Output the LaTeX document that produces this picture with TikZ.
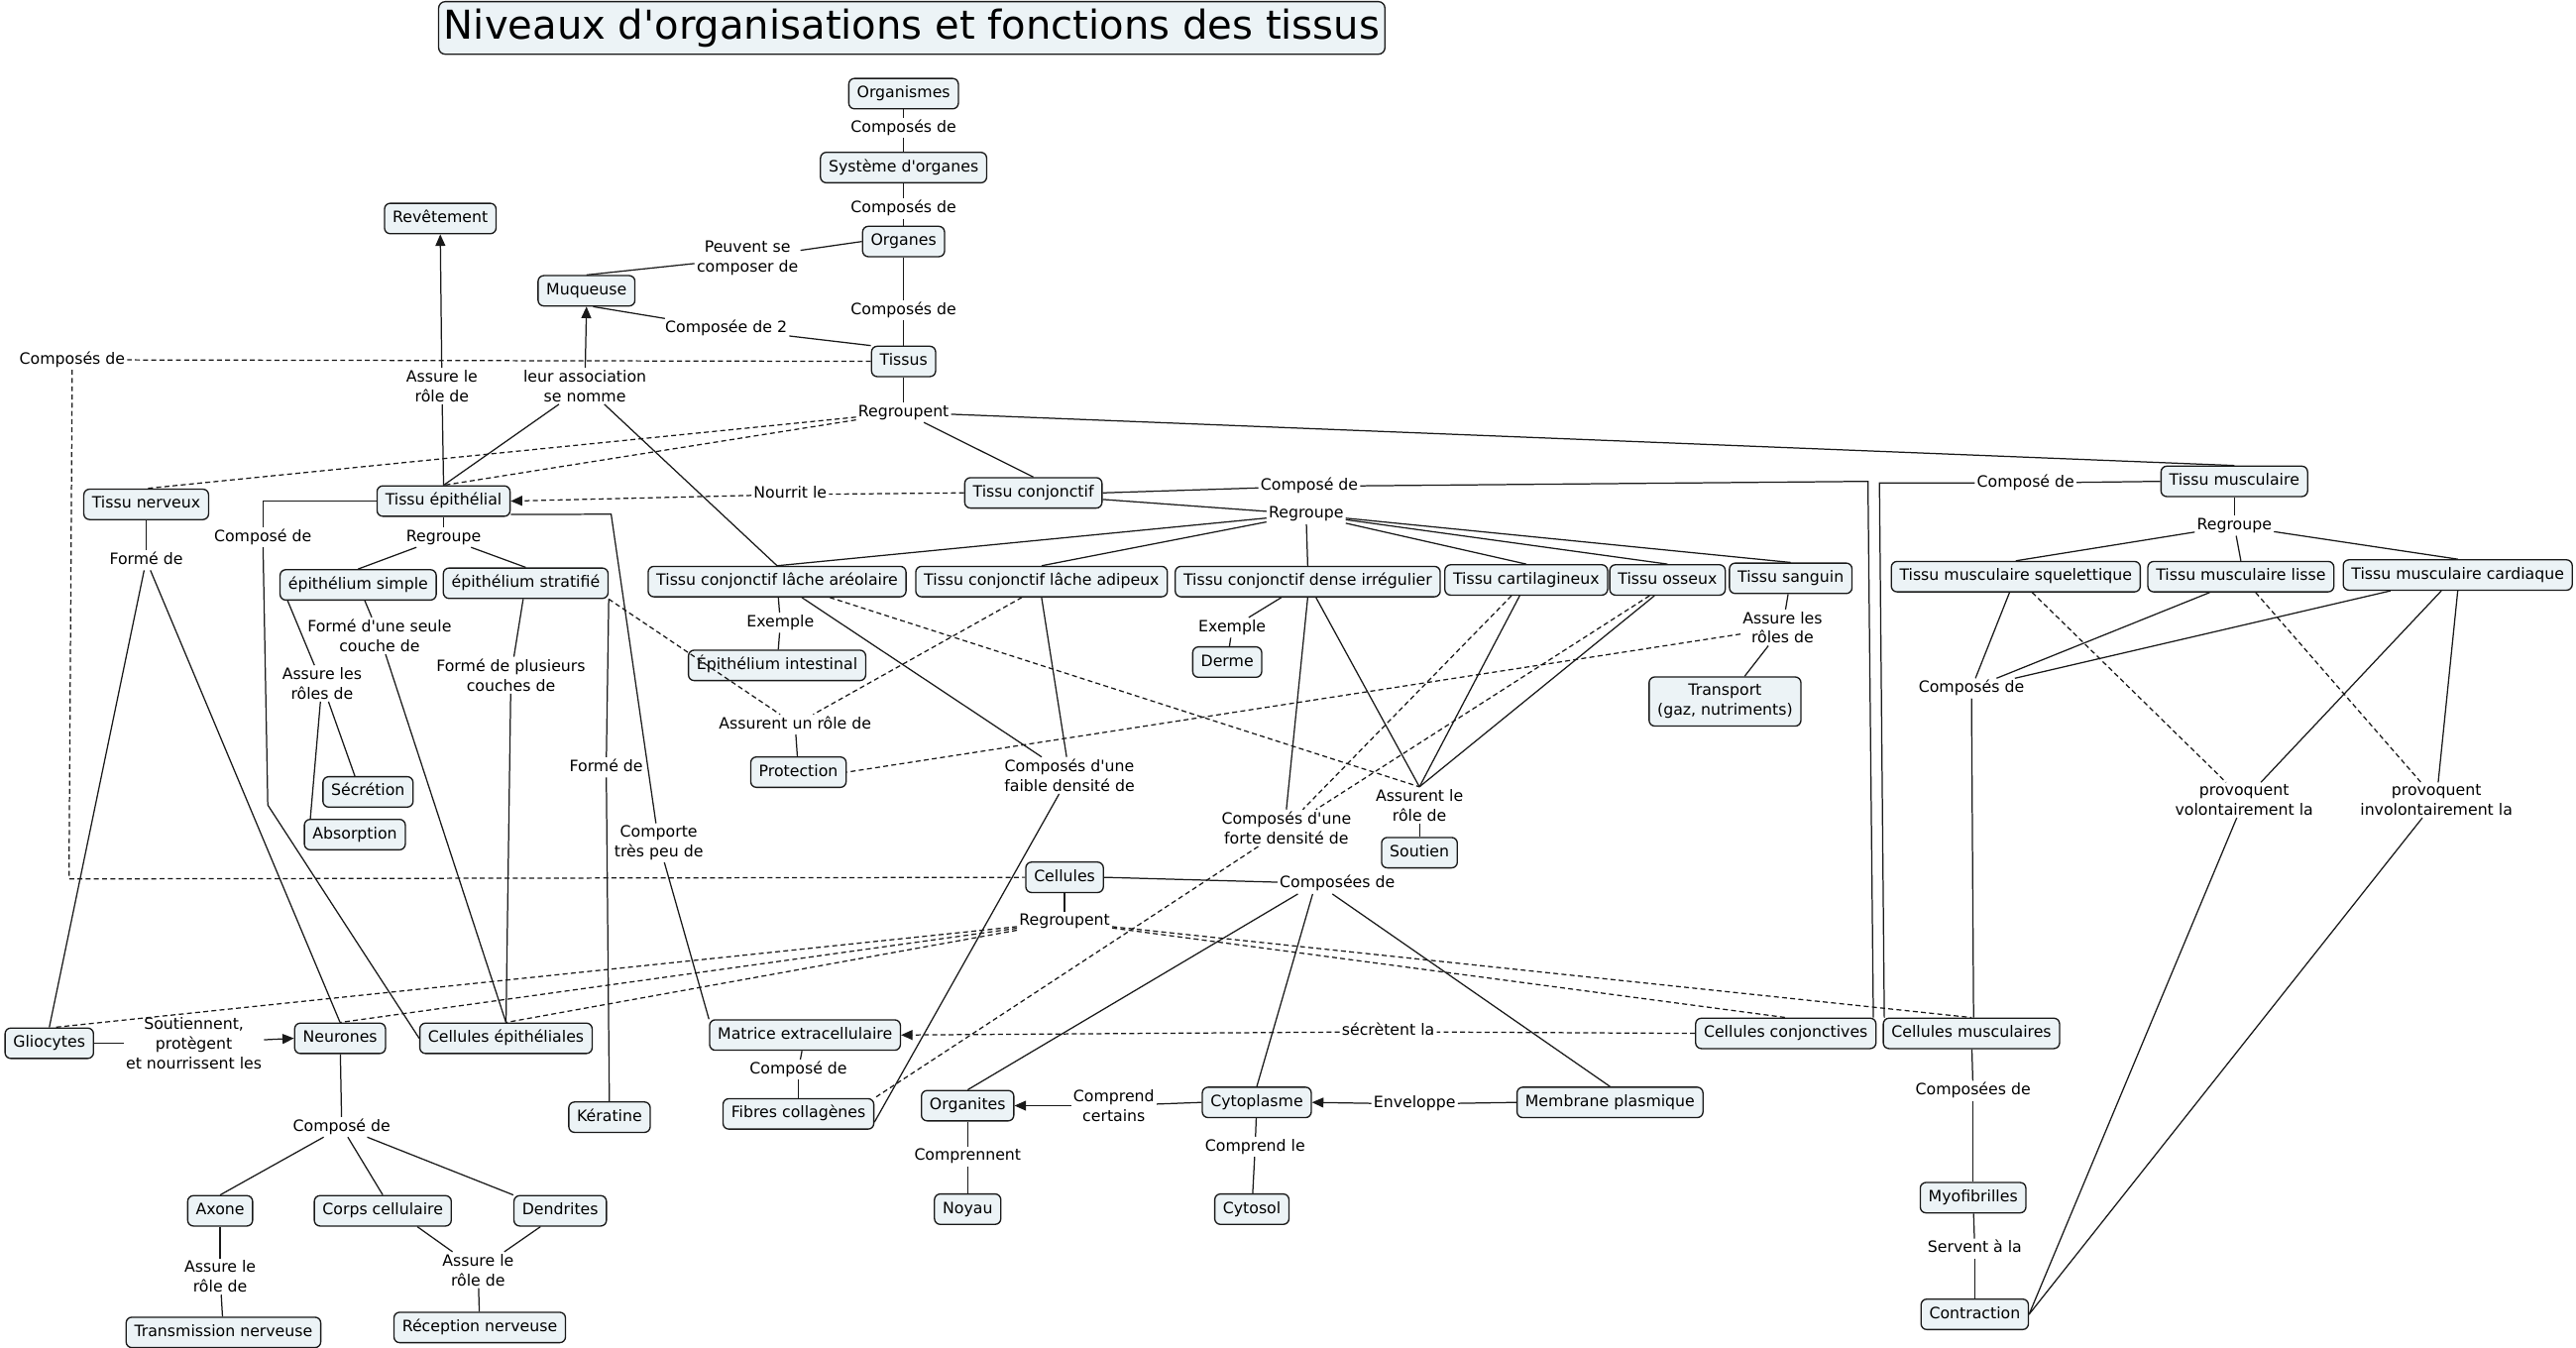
\documentclass[tikz,border=0pt]{standalone}
\usepackage{fontspec}
\setmainfont{DejaVu Sans}[Ligatures=TeXOff]
\usetikzlibrary{arrows.meta}
\definecolor{cfill}{RGB}{236,243,246}
\definecolor{cline}{RGB}{25,25,25}
\begin{document}
\begin{tikzpicture}[x=1pt,y=-1pt,
  concept/.style={draw=cline, fill=cfill, rounded corners=3.5pt, line width=0.8pt,
    font=\fontsize{9.5}{12}\selectfont, inner xsep=5pt, inner ysep=4.5pt,
    text height=7.2pt, text depth=2.3pt},
  conceptm/.style={draw=cline, fill=cfill, rounded corners=3.5pt, line width=0.8pt,
    font=\fontsize{9.5}{12}\selectfont, inner xsep=5pt, inner ysep=4.5pt, align=center},
  lab/.style={font=\fontsize{9.5}{12}\selectfont, inner sep=1.2pt,
    text height=7.2pt, text depth=2.3pt},
  labm/.style={font=\fontsize{9.5}{12}\selectfont, inner sep=1.2pt, align=center},
  titlebox/.style={draw=cline, fill=cfill, rounded corners=4pt, line width=0.8pt,
    font=\fontsize{24.2}{28}\selectfont, minimum width=576pt, minimum height=32pt, inner sep=2pt},
  conn/.style={draw=cline, line width=0.75pt},
  dconn/.style={conn, dash pattern=on 3pt off 2pt},
  arr/.style={-{Triangle[length=7pt,width=6pt]}},
]
\fill[white] (0,0) rectangle (1568,820.5);
\useasboundingbox (0,0) rectangle (1568,820.5);

\node[titlebox] (title) at (555,17) {Niveaux d'organisations et fonctions des tissus};

% concepts
\node[concept] (org) at (550,57) {Organismes};
\node[concept] (sys) at (550,102) {Système d'organes};
\node[concept] (organes) at (550,147) {Organes};
\node[concept] (tissus) at (550,220) {Tissus};
\node[concept] (revet) at (268,133) {Revêtement};
\node[concept] (muq) at (357,177) {Muqueuse};
\node[concept] (tnerv) at (89,307) {Tissu nerveux};
\node[concept] (tepi) at (270,305) {Tissu épithélial};
\node[concept] (tconj) at (629,300) {Tissu conjonctif};
\node[concept] (tmusc) at (1360,293) {Tissu musculaire};
\node[concept] (episimple) at (218,356) {épithélium simple};
\node[concept] (epistrat) at (320,355) {épithélium stratifié};
\node[concept] (areo) at (473,354) {Tissu conjonctif lâche aréolaire};
\node[concept] (adip) at (634,354) {Tissu conjonctif lâche adipeux};
\node[concept] (dense) at (796,354) {Tissu conjonctif dense irrégulier};
\node[concept] (cart) at (929,353) {Tissu cartilagineux};
\node[concept] (oss) at (1015,353) {Tissu osseux};
\node[concept] (sang) at (1090,352) {Tissu sanguin};
\node[concept] (squel) at (1227,351) {Tissu musculaire squelettique};
\node[concept] (lisse) at (1364,351) {Tissu musculaire lisse};
\node[concept] (card) at (1496,350) {Tissu musculaire cardiaque};
\node[concept] (epiint) at (473,405) {Épithélium intestinal};
\node[concept] (derme) at (747,403) {Derme};
\node[conceptm] (transport) at (1050,427) {Transport\\(gaz, nutriments)};
\node[concept] (protec) at (486,470) {Protection};
\node[concept] (secr) at (224,482) {Sécrétion};
\node[concept] (absorp) at (216,508) {Absorption};
\node[concept] (soutien) at (864,519) {Soutien};
\node[concept] (cellules) at (648,534) {Cellules};
\node[concept] (glio) at (30,635) {Gliocytes};
\node[concept] (neur) at (207,632) {Neurones};
\node[concept] (cepi) at (308,632) {Cellules épithéliales};
\node[concept] (matrice) at (490,630) {Matrice extracellulaire};
\node[concept] (cconj) at (1087,629) {Cellules conjonctives};
\node[concept] (cmusc) at (1200,629) {Cellules musculaires};
\node[concept] (fibres) at (486,678) {Fibres collagènes};
\node[concept] (kerat) at (371,680) {Kératine};
\node[concept] (organites) at (589,673) {Organites};
\node[concept] (cyto) at (765,671) {Cytoplasme};
\node[concept] (membrane) at (980,671) {Membrane plasmique};
\node[concept] (noyau) at (589,736) {Noyau};
\node[concept] (cytosol) at (762,736) {Cytosol};
\node[concept] (myo) at (1201,729) {Myofibrilles};
\node[concept] (contr) at (1202,800) {Contraction};
\node[concept] (axone) at (134,737) {Axone};
\node[concept] (corps) at (233,737) {Corps cellulaire};
\node[concept] (dendr) at (341,737) {Dendrites};
\node[concept] (transm) at (136,811) {Transmission nerveuse};
\node[concept] (recep) at (292,808) {Réception nerveuse};

% linking phrases
\node[lab] (l1) at (550,78) {Composés de};
\node[lab] (l2) at (550,127) {Composés de};
\node[labm] (l3) at (455,157) {Peuvent se\\composer de};
\node[lab] (l4) at (550,189) {Composés de};
\node[lab] (l5) at (442,200) {Composée de 2};
\node[lab] (l6) at (44,219) {Composés de};
\node[labm] (l7) at (269,235) {Assure le\\rôle de};
\node[labm] (l8) at (356,235) {leur association\\se nomme};
\node[lab] (l9) at (550,251) {Regroupent};
\node[lab] (l10) at (481,301) {Nourrit le};
\node[lab] (l11) at (160,327) {Composé de};
\node[lab] (l12) at (270,327) {Regroupe};
\node[lab] (l13) at (89,341) {Formé de};
\node[lab] (l14) at (797,296) {Composé de};
\node[lab] (l15) at (795,313) {Regroupe};
\node[lab] (l16) at (1233,294) {Composé de};
\node[lab] (l17) at (1360,320) {Regroupe};
\node[labm] (l18) at (231,387) {Formé d'une seule\\couche de};
\node[labm] (l19) at (196,416) {Assure les\\rôles de};
\node[labm] (l20) at (311,411) {Formé de plusieurs\\couches de};
\node[lab] (l21) at (475,379) {Exemple};
\node[lab] (l22) at (750,382) {Exemple};
\node[labm] (l23) at (1085,382) {Assure les\\rôles de};
\node[lab] (l24) at (1200,419) {Composés de};
\node[lab] (l25) at (484,441) {Assurent un rôle de};
\node[lab] (l26) at (369,467) {Formé de};
\node[labm] (l27) at (651,472) {Composés d'une\\faible densité de};
\node[labm] (l28) at (864,490) {Assurent le\\rôle de};
\node[labm] (l29) at (783,504) {Composés d'une\\forte densité de};
\node[labm] (l30) at (401,513) {Comporte\\très peu de};
\node[labm] (l31) at (1366,487) {provoquent\\volontairement la};
\node[labm] (l32) at (1483,487) {provoquent\\involontairement la};
\node[lab] (l33) at (814,538) {Composées de};
\node[lab] (l34) at (648,561) {Regroupent};
\node[labm] (l35) at (118,635) {Soutiennent,\\protègent\\et nourrissent les};
\node[lab] (l36) at (845,628) {sécrètent la};
\node[lab] (l37) at (1201,664) {Composées de};
\node[lab] (l38) at (486,651) {Composé de};
\node[labm] (l39) at (678,673) {Comprend\\certains};
\node[lab] (l40) at (861,672) {Enveloppe};
\node[lab] (l41) at (764,698) {Comprend le};
\node[lab] (l42) at (589,704) {Comprennent};
\node[lab] (l43) at (208,686) {Composé de};
\node[labm] (l44) at (134,777) {Assure le\\rôle de};
\node[labm] (l45) at (291,773) {Assure le\\rôle de};
\node[lab] (l46) at (1202,760) {Servent à la};

% bend points
\coordinate (k1) at (163,490);
\coordinate (k2) at (372,313);
\coordinate (k3) at (1137,293);
\coordinate (k4) at (1144,294);
\coordinate (k5) at (42,535);

% top chain
\draw[conn] (org) -- (l1); \draw[conn] (l1) -- (sys);
\draw[conn] (sys) -- (l2); \draw[conn] (l2) -- (organes);
\draw[conn] (organes.west) -- (l3); \draw[conn] (l3) -- (muq.north);
\draw[conn] (organes) -- (l4); \draw[conn] (l4) -- (tissus);
\draw[conn] (tissus.north west) -- (l5); \draw[conn] (l5) -- ([xshift=4pt]muq.south);
\draw[dconn] (tissus) -- (l6); \draw[dconn] (l6) -- (k5) -- (cellules.west);
\draw[conn] (tissus) -- (l9);
\draw[dconn] (l9) -- (tnerv.north);
\draw[dconn] (l9) -- (tepi.north);
\draw[conn] (l9) -- (tconj.north);
\draw[conn] (l9) -- (tmusc.north);
\draw[conn] (tepi.north) -- (l7); \draw[conn,arr] (l7) -- (revet.south);
\draw[conn] (tepi.north) -- (l8); \draw[conn,arr] (l8) -- (muq.south);
\draw[conn] (areo.north) -- (l8);
\draw[dconn] (tconj.west) -- (l10); \draw[dconn,arr] (l10) -- (tepi.east);

% epithelial
\draw[conn] (tepi.west) -| (l11); \draw[conn] (l11) -- (k1) -- (cepi.west);
\draw[conn] (tepi) -- (l12); \draw[conn] (l12) -- (episimple.north); \draw[conn] (l12) -- (epistrat.north);
\draw[conn] (tnerv) -- (l13); \draw[conn] (l13) -- (glio.north); \draw[conn] (l13) -- (neur.north);
\draw[conn] (episimple) -- (l18); \draw[conn] (l18) -- (cepi.north);
\draw[conn] ([xshift=5pt]episimple.south west) -- (l19);
\draw[conn] (l19) -- ([xshift=-8pt]secr.north);
\draw[conn] (l19) -- ([xshift=4pt]absorp.north west);
\draw[conn] (epistrat) -- (l20); \draw[conn] (l20) -- (cepi.north);
\draw[dconn] (epistrat.south east) -- (l25);
\draw[conn] (epistrat.south east) -- (l26); \draw[conn] (l26) -- (kerat);
\draw[conn] ([yshift=1.5pt]tepi.south east) -- (k2) -- (l30); \draw[conn] (l30) -- (matrice.north west);

% connective
\draw[conn] (tconj.east) -- (l14); \draw[conn] (l14) -- (k3) -- ([xshift=-2pt]cconj.north east);
\draw[conn] ([yshift=-4pt]tconj.east) -- (l15);
\foreach \t in {areo,adip,dense,cart,oss,sang} {\draw[conn] (l15) -- (\t.north);}
\draw[conn] (areo) -- (l21); \draw[conn] (l21) -- (epiint);
\draw[conn] ([xshift=-16pt]dense.south) -- (l22); \draw[conn] (l22) -- (derme);
\draw[conn] (sang) -- (l23); \draw[conn] (l23) -- (transport);
\draw[dconn] (l23) -- (protec.east);
\draw[dconn] ([xshift=-12pt]adip.south) -- (l25); \draw[conn] (l25) -- (protec);
\draw[conn] ([xshift=15pt]areo.south) -- (l27); \draw[conn] (adip.south) -- (l27);
\draw[conn] (l27) -- ([yshift=-5pt]fibres.east);
\draw[dconn] ([xshift=32pt]areo.south) -- (l28.north);
\draw[conn] ([xshift=5pt]dense.south) -- (l28.north);
\draw[conn] ([xshift=-4pt]cart.south) -- (l28.north);
\draw[conn] ([xshift=-8pt]oss.south) -- (l28.north);
\draw[conn] (l28) -- (soutien);
\draw[conn] (dense.south) -- (l29.north);
\draw[dconn] ([xshift=-9pt]cart.south) -- ([xshift=10pt]l29.north);
\draw[dconn] ([xshift=-11pt]oss.south) -- ([xshift=18pt]l29.north);
\draw[dconn] (l29) -- (fibres.north east);

% muscle
\draw[conn] (tmusc.west) -- (l16); \draw[conn] (l16) -- (k4) -- ([xshift=1pt]cmusc.north west);
\draw[conn] (tmusc) -- (l17);
\foreach \t in {squel,lisse,card} {\draw[conn] (l17) -- (\t.north);}
\draw[conn] (squel) -- (l24);
\draw[conn] ([xshift=-19pt]lisse.south) -- (l24);
\draw[conn] ([xshift=-41pt]card.south) -- (l24);
\draw[conn] (l24) -- ([xshift=1.3pt]cmusc.north);
\draw[dconn] ([xshift=10pt]squel.south) -- (l31); \draw[conn] ([xshift=-10pt]card.south) -- (l31);
\draw[dconn] ([xshift=9pt]lisse.south) -- (l32); \draw[conn] (card.south) -- (l32);
\draw[conn] (l31) -- (contr.east); \draw[conn] (l32) -- (contr.east);

% cells
\draw[conn] (cellules) -- (l34);
\draw[dconn] (l34) -- ([xshift=3pt]glio.north);
\draw[dconn] (l34) -- (neur.north);
\draw[dconn] (l34) -- (cepi.north);
\draw[dconn] (l34) -- (cconj.north);
\draw[dconn] (l34) -- (cmusc.north);
\draw[conn] (cellules.east) -- (l33);
\draw[conn] ([xshift=-24pt]l33.south) -- (organites.north);
\draw[conn] ([xshift=-15pt]l33.south) -- (cyto.north);
\draw[conn] ([xshift=-3pt]l33.south) -- (membrane.north);
\draw[conn] (cyto.west) -- (l39); \draw[conn,arr] (l39) -- (organites.east);
\draw[conn] (membrane.west) -- (l40); \draw[conn,arr] (l40) -- (cyto.east);
\draw[conn] (cyto) -- (l41); \draw[conn] (l41) -- (cytosol);
\draw[conn] (organites) -- (l42); \draw[conn] (l42) -- (noyau);
\draw[dconn] (cconj.west) -- (l36); \draw[dconn,arr] (l36) -- (matrice.east);
\draw[conn] (matrice) -- (l38); \draw[conn] (l38) -- (fibres);
\draw[conn] (glio.east) -- (l35); \draw[conn,arr] (l35) -- (neur.west);
\draw[conn] (neur) -- (l43);
\draw[conn] (l43) -- (axone.north);
\draw[conn] (l43) -- (corps.north);
\draw[conn] (l43) -- (dendr.north west);
\draw[conn] (axone) -- (l44); \draw[conn] (l44) -- (transm);
\draw[conn] ([xshift=21pt]corps.south) -- (l45);
\draw[conn] ([xshift=-12pt]dendr.south) -- (l45);
\draw[conn] (l45) -- (recep);
\draw[conn] (cmusc) -- (l37); \draw[conn] (l37) -- (myo);
\draw[conn] (myo) -- (l46); \draw[conn] (l46) -- (contr);
\end{tikzpicture}
\end{document}
